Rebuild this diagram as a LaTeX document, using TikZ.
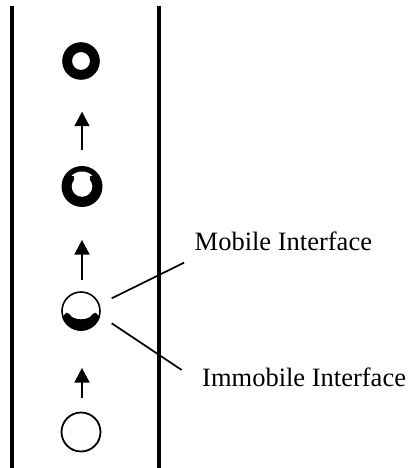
\documentclass[tikz,border=0pt]{standalone}
\usepackage{fontspec}
\setmainfont{Liberation Serif}
\begin{document}
\begin{tikzpicture}[x=1pt,y=-1pt,
  wall/.style={line width=4pt},
  shaft/.style={line width=2.4pt},
  leader/.style={line width=1.7pt},
  lbl/.style={anchor=base west,inner sep=0pt,font=\fontsize{26.5}{31}\selectfont},
  ball/.style={circle,inner sep=0pt,minimum size=#1}]
\useasboundingbox (0,0) rectangle (407,468);
% walls
\draw[wall] (11.5,6) -- (11.5,468);
\draw[wall] (159,6) -- (159,468);
% circle nodes (for connections)
\node[ball=37pt] (c1) at (82,61) {};
\node[ball=41pt] (c2) at (82,186.5) {};
\node[ball=38pt] (c3) at (82,311) {};
\node[ball=39pt] (c4) at (82,432) {};
% circle 1: thick ring
\fill[even odd rule] (81,61) circle (18.8) (81,61) circle (9);
% circle 2
\begin{scope}[shift={(82,186.5)},y=1pt]
\fill (0,0) circle (20.5);
\fill[white] (0,0) circle (10.3);
\fill[white] (0,0) -- (140:10.3) -- (127:12.8) -- (134:15)
  arc[start angle=134,end angle=46,radius=15] -- (53:12.8) -- (40:10.3) -- cycle;
\end{scope}
% circle 3
\begin{scope}[shift={(81,311)},y=1pt]
\draw[line width=1.6pt] (0,0) circle (19);
\fill (197:19.8) arc[start angle=197,end angle=343,radius=19.8] -- (14.3,-1.6)
  -- (11.5,-3.2) .. controls (8,-10) and (-8,-10) .. (-11.5,-3.2) -- (-14.3,-1.6) -- cycle;
\end{scope}
% circle 4
\draw[line width=1.8pt] (81,432) circle (19.5);
% arrows: shafts between circles, heads as filled triangles
\draw[shaft,shorten <=16pt,shorten >=45pt] (c2.north) -- (c1.south);
\fill (82,111.7) -- ++(-7.7,14.5) -- ++(15.4,0) -- cycle;
\draw[shaft,shorten <=12pt,shorten >=46pt] (c3.north) -- (c2.south);
\fill (82,240) -- ++(-7.7,14.5) -- ++(15.4,0) -- cycle;
\draw[shaft,shorten <=14.5pt,shorten >=50pt] (c4.north) -- (c3.south);
\fill (82,368) -- ++(-7.7,14.5) -- ++(15.4,0) -- cycle;
% labels
\node[lbl] (mob) at (194.5,250.7) {Mobile Interface};
\node[lbl] (imm) at (202,386.7) {Immobile Interface};
\coordinate (m0) at (111.7,298.3);
\coordinate (m1) at (184,262.7);
\coordinate (i0) at (111.7,323.3);
\coordinate (i1) at (181.7,370);
\draw[leader] (m0) -- (m1);
\draw[leader] (i0) -- (i1);
\end{tikzpicture}
\end{document}
